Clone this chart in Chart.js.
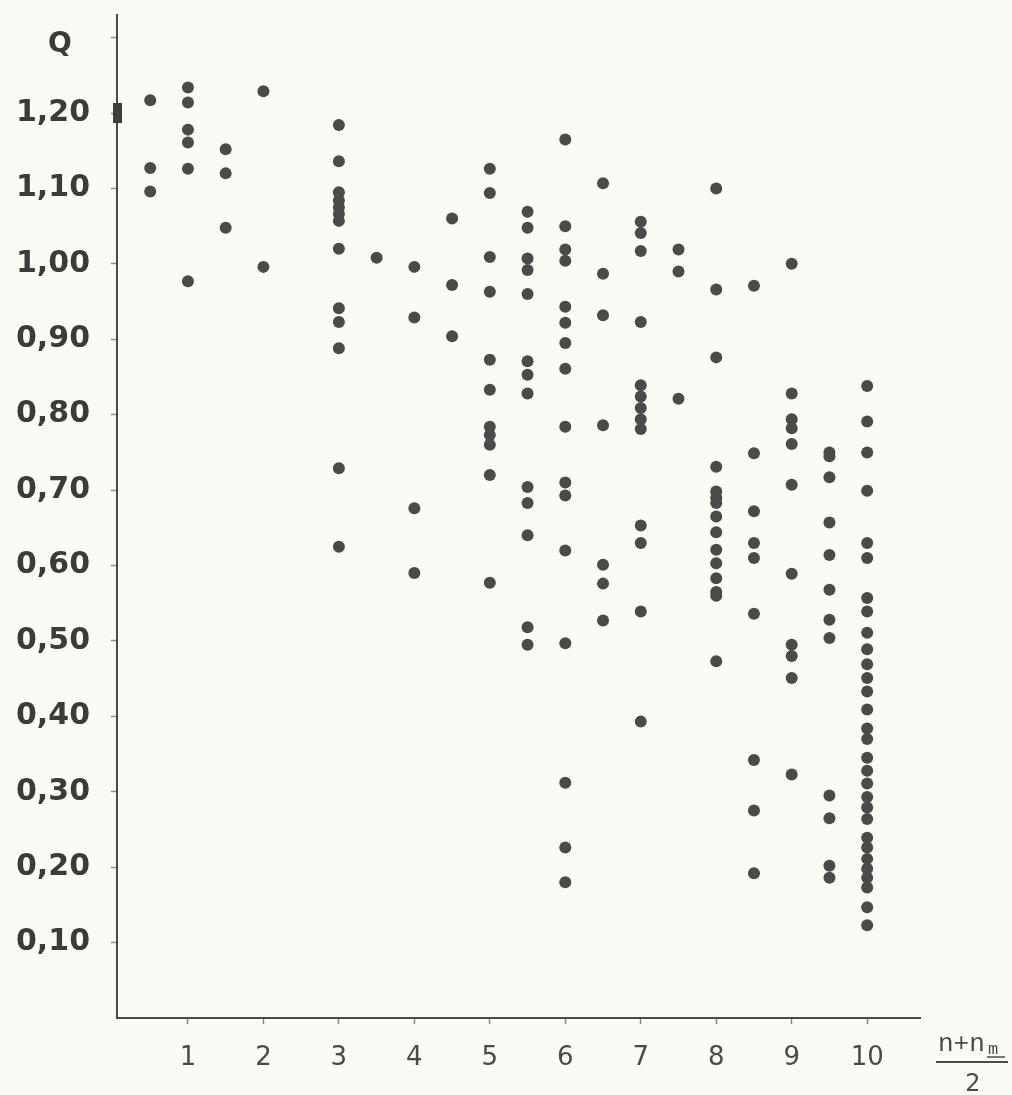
<!DOCTYPE html>
<html>
<head>
<meta charset="utf-8">
<script src="https://cdn.jsdelivr.net/npm/chart.js@4.4.0/dist/chart.umd.min.js"></script>
<style>
  html, body { margin: 0; padding: 0; background: #fbfbf6; }
  #wrap { width: 1012px; height: 1095px; position: relative; }
</style>
</head>
<body>
<div id="wrap"><canvas id="qChart"></canvas></div>
<script>
// x positions of the columns, (n + n_m) / 2
const xTicks = [1, 2, 3, 4, 5, 6, 7, 8, 9, 10];
const yTicks = [0.1, 0.2, 0.3, 0.4, 0.5, 0.6, 0.7, 0.8, 0.9, 1.0, 1.1, 1.2, 1.3];

// Q values read per column
const col05 = [1.217, 1.127, 1.096];
const col10 = [1.234, 1.214, 1.178, 1.161, 1.126, 0.977];
const col15 = [1.152, 1.120, 1.048];
const col20 = [1.229, 0.996];
const col30 = [1.184, 1.136, 1.095, 1.084, 1.075, 1.066, 1.057, 1.020, 0.941, 0.923, 0.888, 0.729, 0.625];
const col35 = [1.008];
const col40 = [0.996, 0.929, 0.676, 0.590];
const col45 = [1.060, 0.972, 0.904];
const col50 = [1.126, 1.094, 1.009, 0.963, 0.873, 0.833, 0.784, 0.773, 0.760, 0.720, 0.577];
const col55 = [1.069, 1.048, 1.007, 0.992, 0.960, 0.871, 0.853, 0.828, 0.704, 0.683, 0.640, 0.518, 0.495];
const col60 = [1.165, 1.050, 1.019, 1.004, 0.943, 0.922, 0.895, 0.861, 0.784, 0.710, 0.693, 0.620, 0.497, 0.312, 0.226, 0.180];
const col65 = [1.107, 0.987, 0.932, 0.786, 0.601, 0.576, 0.527];
const col70 = [1.056, 1.041, 1.017, 0.923, 0.839, 0.824, 0.809, 0.794, 0.781, 0.653, 0.630, 0.539, 0.393];
const col75 = [1.019, 0.990, 0.821];
const col80 = [1.100, 0.966, 0.876, 0.731, 0.698, 0.690, 0.683, 0.665, 0.644, 0.621, 0.603, 0.583, 0.565, 0.560, 0.473];
const col85 = [0.971, 0.749, 0.672, 0.630, 0.610, 0.536, 0.342, 0.275, 0.192];
const col90 = [1.000, 0.828, 0.794, 0.782, 0.761, 0.707, 0.589, 0.495, 0.480, 0.451, 0.323];
const col95 = [0.750, 0.745, 0.717, 0.657, 0.614, 0.568, 0.528, 0.504, 0.295, 0.265, 0.202, 0.186];
const col100 = [0.838, 0.791, 0.750, 0.699, 0.630, 0.610, 0.557, 0.539, 0.511, 0.489, 0.469, 0.451, 0.433, 0.409,
                0.384, 0.370, 0.345, 0.328, 0.311, 0.293, 0.279, 0.264, 0.239, 0.226, 0.211, 0.198, 0.186, 0.173, 0.147, 0.123];

const columns = [
    [0.5, col05], [1, col10], [1.5, col15], [2, col20], [3, col30], [3.5, col35],
    [4, col40], [4.5, col45], [5, col50], [5.5, col55], [6, col60], [6.5, col65],
    [7, col70], [7.5, col75], [8, col80], [8.5, col85], [9, col90], [9.5, col95], [10, col100]
];

// the dark block sitting on the axis at 1,20
const axisMark = [{ x: 0.06, y: 1.2 }];

const points = [];
columns.forEach(([x, vals]) => vals.forEach(v => points.push({ x: x, y: v })));

// bar shaped marker for the axis block
const markCanvas = document.createElement('canvas');
markCanvas.width = 9;
markCanvas.height = 20;
const mctx = markCanvas.getContext('2d');
mctx.fillStyle = '#3e3e3e';
mctx.fillRect(0, 0, 9, 20);

const paperBg = {
    id: 'paperBg',
    beforeDraw(chart) {
        const ctx = chart.ctx;
        ctx.save();
        ctx.fillStyle = '#fbfbf6';
        ctx.fillRect(0, 0, chart.width, chart.height);
        ctx.restore();
    }
};

const axisLabels = {
    id: 'axisLabels',
    afterDraw(chart) {
        const ctx = chart.ctx;
        const ys = chart.scales.y;
        ctx.save();
        // Q above the y labels
        ctx.fillStyle = '#3b3b3b';
        ctx.font = 'bold 28px "DejaVu Sans"';
        ctx.textAlign = 'center';
        ctx.textBaseline = 'middle';
        ctx.fillText('Q', 60, ys.getPixelForValue(1.3) + 7);

        // (n + n_m) / 2 at the end of the x axis
        ctx.fillStyle = '#4a4a4a';
        ctx.textAlign = 'left';
        ctx.textBaseline = 'alphabetic';
        ctx.font = '26px "Liberation Mono"';
        ctx.fillText('n+n', 938, 1051);
        ctx.font = '17px "Liberation Mono"';
        ctx.fillText('m', 988, 1054);
        ctx.strokeStyle = '#4a4a4a';
        ctx.lineWidth = 1.5;
        ctx.beginPath();
        ctx.moveTo(987, 1057);
        ctx.lineTo(1005, 1057);
        ctx.stroke();
        ctx.lineWidth = 2;
        ctx.beginPath();
        ctx.moveTo(936, 1062);
        ctx.lineTo(1008, 1062);
        ctx.stroke();
        ctx.font = '24px "DejaVu Sans"';
        ctx.textAlign = 'center';
        ctx.fillText('2', 973, 1091);
        ctx.restore();
    }
};

const ctx = document.getElementById('qChart').getContext('2d');
new Chart(ctx, {
    type: 'scatter',
    data: {
        datasets: [{
            label: 'Q',
            data: points,
            backgroundColor: '#4a4a4a',
            borderWidth: 0,
            pointRadius: 6,
            clip: false
        }, {
            label: 'axis mark',
            data: axisMark,
            pointStyle: markCanvas,
            clip: false
        }]
    },
    options: {
        responsive: true,
        maintainAspectRatio: false,
        animation: false,
        layout: { padding: { top: 15, right: 92, left: 0, bottom: 0 } },
        plugins: {
            legend: { display: false },
            tooltip: { enabled: false }
        },
        scales: {
            x: {
                type: 'linear',
                min: 0.06,
                max: 10.7,
                afterBuildTicks: s => { s.ticks = xTicks.map(v => ({ value: v })); },
                afterFit: s => { s.height = 77; s.paddingLeft = 0; s.paddingRight = 0; },
                ticks: {
                    font: { family: 'DejaVu Sans', size: 26 },
                    color: '#4a4a4a',
                    padding: 19,
                    maxRotation: 0,
                    autoSkip: false
                },
                grid: { drawOnChartArea: false, tickLength: 6, tickColor: '#8a8a8a', tickWidth: 1.5 },
                border: { color: '#4a4a4a', width: 2 }
            },
            y: {
                min: 0,
                max: 1.33,
                afterBuildTicks: s => { s.ticks = yTicks.map(v => ({ value: v })); },
                afterFit: s => { s.width = 117; s.paddingTop = 0; s.paddingBottom = 0; },
                ticks: {
                    callback: v => (v > 1.25 ? '' : v.toFixed(2).replace('.', ',')),
                    font: { family: 'DejaVu Sans', weight: 'bold', size: 30 },
                    color: '#3b3b3b',
                    padding: 21
                },
                grid: { drawOnChartArea: false, tickLength: 6, tickColor: '#8a8a8a', tickWidth: 1.5 },
                border: { color: '#4a4a4a', width: 2 }
            }
        }
    },
    plugins: [paperBg, axisLabels]
});
</script>
</body>
</html>
